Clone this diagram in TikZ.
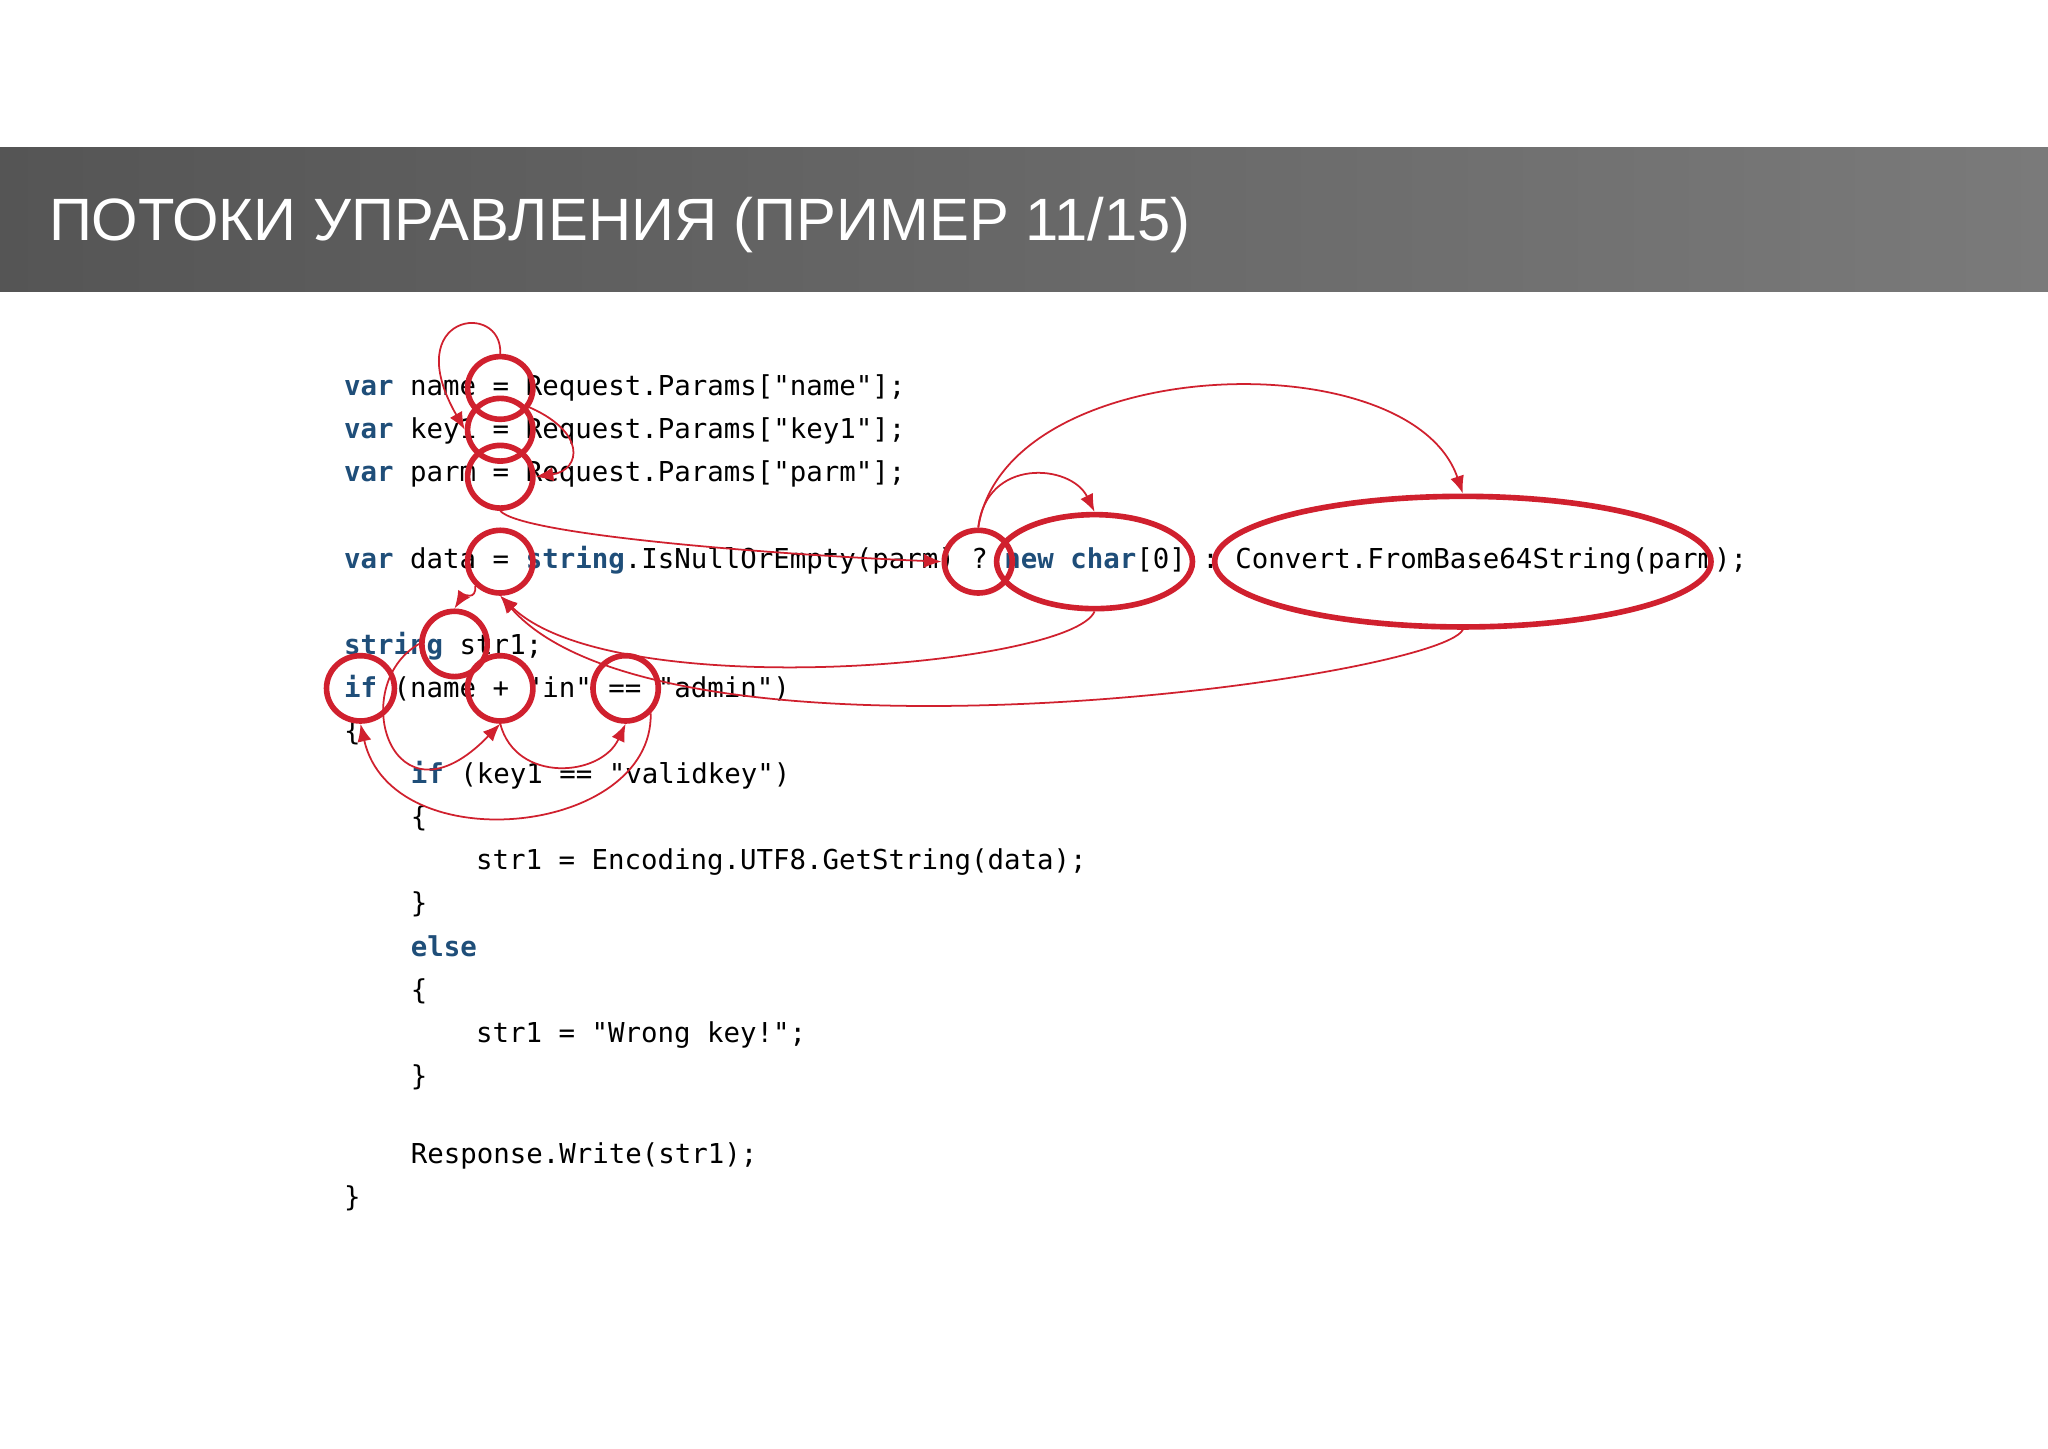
\documentclass[tikz,border=0pt]{standalone}
\usepackage{fontspec}
\setmainfont{Liberation Sans}
\setmonofont{DejaVu Sans Mono}
\usetikzlibrary{arrows.meta,shapes.geometric}
\definecolor{mark}{HTML}{D0202E}
\definecolor{kw}{HTML}{1F4E79}
\definecolor{bandL}{HTML}{555555}
\definecolor{bandR}{HTML}{7A7A7A}
\newlength{\pxu}
\setlength{\pxu}{0.01306cm}
\newcommand{\kw}[1]{\textcolor{kw}{\textbf{#1}}}
\tikzset{
  codeline/.style={anchor=base west,inner sep=0pt,font=\ttfamily\fontsize{7.8}{9}\selectfont},
  ring/.style={draw=mark,line width=1.6pt,ellipse,inner sep=0pt},
  flow/.style={draw=mark,line width=0.5pt,-{Latex[length=5pt,width=4pt]}}
}
\begin{document}
\begin{tikzpicture}[x=0.01306cm,y=-0.01306cm]
  \useasboundingbox (0,0) rectangle (1568,1109);
  \fill[white] (0,0) rectangle (1568,1109);
  \shade[left color=bandL,right color=bandR] (0,113) rectangle (1568,223);
  \node (title) [anchor=base west,inner sep=0pt,text=white,font=\fontsize{17}{20}\selectfont]
    at (37,184) {ПОТОКИ УПРАВЛЕНИЯ (ПРИМЕР 11/15)};

  % code
  \node (l1) [codeline] at (263,303) {\kw{var} name = Request.Params["name"];};
  \node (l2) [codeline] at (263,336) {\kw{var} key1 = Request.Params["key1"];};
  \node (l3) [codeline] at (263,369) {\kw{var} parm = Request.Params["parm"];};
  \node (l4) [codeline] at (263,435) {\kw{var} data = \kw{string}.IsNullOrEmpty(parm) ? \kw{new} \kw{char}[0] : Convert.FromBase64String(parm);};
  \node (l5) [codeline] at (263,501) {\kw{string} str1;};
  \node (l6) [codeline] at (263,534) {\kw{if} (name + "in" == "admin")};
  \node (l7) [codeline] at (263,567) {\{};
  \node (l8) [codeline] at (314,600) {\kw{if} (key1 == "validkey")};
  \node (l9) [codeline] at (314,633) {\{};
  \node (l10) [codeline] at (364,666) {str1 = Encoding.UTF8.GetString(data);};
  \node (l11) [codeline] at (314,699) {\}};
  \node (l12) [codeline] at (314,732) {\kw{else}};
  \node (l13) [codeline] at (314,765) {\{};
  \node (l14) [codeline] at (364,798) {str1 = "Wrong key!";};
  \node (l15) [codeline] at (314,831) {\}};
  \node (l16) [codeline] at (314,891) {Response.Write(str1);};
  \node (l17) [codeline] at (263,924) {\}};

  % marks
  \node (eqA) [ring,minimum width=50\pxu,minimum height=48\pxu] at (383,297) {};
  \node (eqB) [ring,minimum width=50\pxu,minimum height=48\pxu] at (383,329) {};
  \node (eqC) [ring,minimum width=50\pxu,minimum height=48\pxu] at (383,365) {};
  \node (eqD) [ring,minimum width=50\pxu,minimum height=48\pxu] at (383,430) {};
  \node (qm) [ring,minimum width=52\pxu,minimum height=48\pxu] at (749,430) {};
  \node (newc) [ring,minimum width=150\pxu,minimum height=72\pxu] at (838,430) {};
  \node (conv) [ring,minimum width=380\pxu,minimum height=100\pxu] at (1120,430) {};
  \node (strA) [ring,minimum width=50\pxu,minimum height=50\pxu] at (348,493) {};
  \node (ifA) [ring,minimum width=52\pxu,minimum height=50\pxu] at (276,527) {};
  \node (plus) [ring,minimum width=50\pxu,minimum height=50\pxu] at (383,527) {};
  \node (eqeq) [ring,minimum width=50\pxu,minimum height=50\pxu] at (479,527) {};

  % flow
  \draw[flow] (eqA.north) .. controls (385,230) and (305,240) .. (eqB.west);
  \draw[flow] (eqB.north east) .. controls (450,330) and (445,360) .. (eqC.east);
  \draw[flow] (eqC.south) .. controls (400,410) and (600,425) .. (qm.west);
  \draw[flow] (qm.north) .. controls (755,350) and (820,355) .. (newc.north);
  \draw[flow] (qm.north) .. controls (770,270) and (1080,260) .. (conv.north);
  \draw[flow] (newc.south) .. controls (820,510) and (470,540) .. (eqD.south);
  \draw[flow] (conv.south) .. controls (1100,520) and (510,600) .. (eqD.south);
  \draw[flow] (eqD.south west) .. controls (365,460) and (355,455) .. (strA.north);
  \draw[flow] (strA.west) .. controls (265,525) and (300,640) .. (plus.south);
  \draw[flow] (plus.south) .. controls (395,600) and (460,595) .. (eqeq.south);
  \draw[flow] (eqeq.south east) .. controls (500,640) and (300,660) .. (ifA.south);
\end{tikzpicture}
\end{document}
